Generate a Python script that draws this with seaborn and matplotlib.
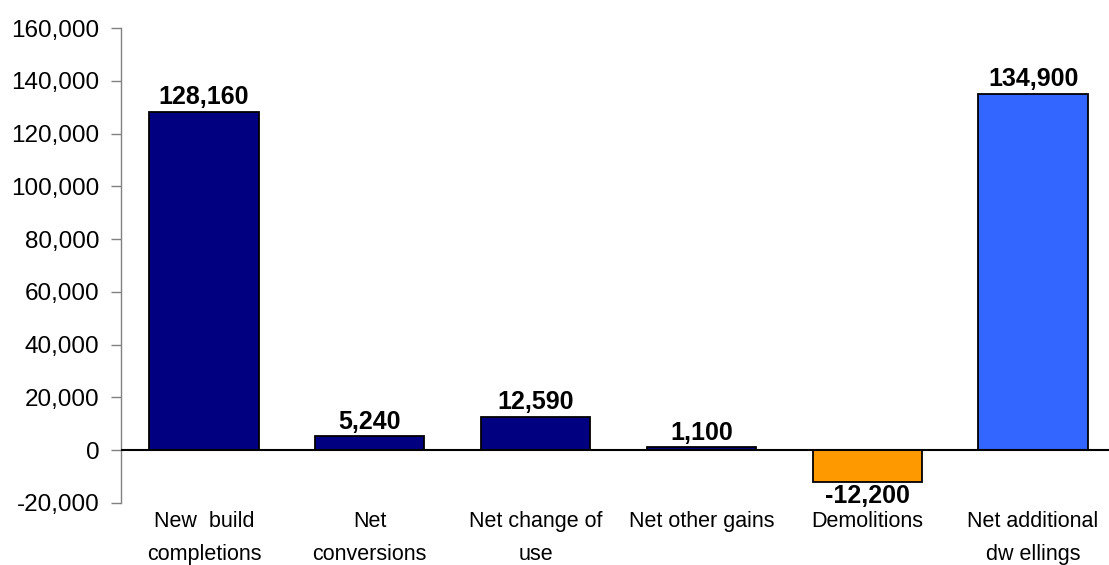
import matplotlib
matplotlib.use("Agg")
import matplotlib.pyplot as plt
import seaborn as sns
import pandas as pd
from matplotlib.ticker import FuncFormatter

categories = ["New  build\ncompletions", "Net\nconversions", "Net change of\nuse",
              "Net other gains", "Demolitions", "Net additional\ndw ellings"]
values = [128160, 5240, 12590, 1100, -12200, 134900]
colors = ["#000080", "#000080", "#000080", "#000080", "#FF9900", "#3366FF"]
yticks = list(range(-20000, 160001, 20000))

sns.set_theme(style="white")
plt.rcParams['font.family'] = ['Liberation Sans', 'DejaVu Sans']
plt.rcParams['text.color'] = 'black'
plt.rcParams['xtick.color'] = 'black'
plt.rcParams['ytick.color'] = 'black'

df = pd.DataFrame({"cat": categories, "val": values})

fig = plt.figure(figsize=(11.09, 5.65), dpi=100)
ax = fig.add_axes([121/1109, 1-503/565, (1116-121)/1109, (503-28)/565])

sns.barplot(data=df, x="cat", y="val", hue="cat", palette=colors, legend=False,
            width=0.66, edgecolor="black", linewidth=1.3, ax=ax, saturation=1)

ax.set_ylim(-20000, 160000)
ax.set_yticks(yticks)
ax.yaxis.set_major_formatter(FuncFormatter(lambda v, p: f"{int(v):,}"))
ax.tick_params(axis="y", length=7, width=1, color="#808080", labelsize=17.5,
               pad=8.5, left=True, labelcolor="black")
ax.tick_params(axis="x", length=0, labelsize=15.5, pad=6, labelcolor="black")
for lbl in ax.get_xticklabels():
    lbl.set_linespacing(1.7)
ax.set_xlabel("")
ax.set_ylabel("")
for s in ["top", "right", "bottom"]:
    ax.spines[s].set_visible(False)
ax.spines["left"].set_color("#808080")
ax.spines["left"].set_linewidth(1)
ax.axhline(0, color="black", linewidth=1.5, zorder=3)

for i, v in enumerate(values):
    if v >= 0:
        ax.annotate(f"{v:,}", (i, v), xytext=(0, 2), textcoords="offset points",
                    ha="center", va="bottom", fontsize=18, fontweight="bold", color="black")
    else:
        ax.annotate(f"{v:,}", (i, v), xytext=(0, -1), textcoords="offset points",
                    ha="center", va="top", fontsize=18, fontweight="bold", color="black")

fig.savefig("out.png", dpi=100)
